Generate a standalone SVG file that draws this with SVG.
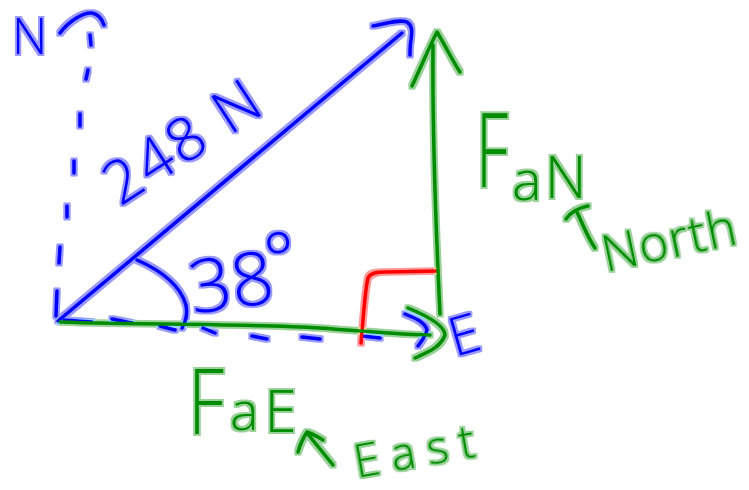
<svg xmlns="http://www.w3.org/2000/svg" width="749" height="490" viewBox="0 0 749 490">
<style>
.b{stroke:#0000ff;fill:none;stroke-width:3.5;stroke-linecap:round;stroke-linejoin:round}
.g{stroke:#008c00;fill:none;stroke-width:3.5;stroke-linecap:round;stroke-linejoin:round}
.r{stroke:#ff0000;fill:none;stroke-width:3.5;stroke-linecap:round;stroke-linejoin:round}
.tb{fill:#0000ff;font-family:"Open Sans","Liberation Sans",Arial,sans-serif;font-weight:300}
.tg{fill:#008c00;font-family:"Open Sans","Liberation Sans",Arial,sans-serif;font-weight:300}
</style>
<defs>
<filter id="halo" filterUnits="userSpaceOnUse" x="0" y="0" width="749" height="490">
<feMorphology in="SourceGraphic" operator="dilate" radius="2.2" result="d"/>
<feGaussianBlur in="d" stdDeviation="0.6" result="bl"/>
<feComponentTransfer in="bl" result="h"><feFuncA type="linear" slope="0.4"/></feComponentTransfer>
<feMerge><feMergeNode in="h"/><feMergeNode in="SourceGraphic"/></feMerge>
</filter>
</defs>
<rect width="749" height="490" fill="#ffffff"/>
<g id="connectors" filter="url(#halo)">
<path class="b" d="M90,35 L91,45 M88,70 L86,79 M80,114 L80,126 M74,161 L74,173 M67,206 L67,217 M60,247 L59,263 M57,291 L56,316"/>
<path class="b" d="M60,33 C68,22 83,12 92,13 C98,14 102,19 104,25"/>
<path class="b" d="M64,320 L92,322 M112,319 L132,323 M160,326 L175,330 M203,328 L215,333 M252,336 L267,339 M302,337 L320,339 M363,336 L380,338"/>
<path class="b" d="M405,314 C415,318 425,322 427,330 C425,337 421,342 418,346"/>
<path class="b" d="M58,321 Q215,190 402,33"/>
<path class="b" d="M373,26 C388,23 400,19 407,22 C413,26 412,32 411,40 C410,45 410,50 410,55"/>
<path class="b" d="M137,260 C160,270 180,285 186,305 C188,315 185,323 182,328"/>
<path class="r" d="M361,343 C364,310 365,290 368,278 C370,273 376,272 385,272 L438,271"/>
<path class="g" d="M60,322 C150,325 260,324 320,328 C360,331 395,334 430,335"/>
<path class="g" d="M408,308 C425,315 445,325 445,335 C440,348 428,352 415,358"/>
<path class="g" d="M440,314 C437,250 432,150 433,45"/>
<path class="g" d="M412,86 C422,65 430,45 437,32 C445,45 452,60 460,72"/>
<path class="g" d="M566,219 C570,213 578,208 588,206 M577,212 C583,225 588,238 595,248"/>
<path class="g" d="M298,452 C300,445 303,438 307,432 C313,434 318,437 323,440 M307,433 C315,443 325,455 333,465"/>
</g>
<g id="north-label" filter="url(#halo)">
<text class="tb" x="12" y="54" font-size="49">N</text>
</g>
<g id="magnitude-label" filter="url(#halo)">
<text class="tb" x="120" y="207" font-size="60" textLength="174" lengthAdjust="spacing" transform="rotate(-33 120 207)">248 N</text>
</g>
<g id="angle-label" filter="url(#halo)">
<text class="tb" x="193" y="314" font-size="74" transform="rotate(-8 193 314)">38<tspan dx="-6" dy="-16">°</tspan></text>
</g>
<g id="east-label" filter="url(#halo)">
<text class="tb" x="455" y="357" font-size="54" transform="rotate(-16 455 357)">E</text>
</g>
<g id="fan-label" filter="url(#halo)">
<text class="tg" x="476" y="187"><tspan font-size="104" textLength="32" lengthAdjust="spacingAndGlyphs">F</tspan><tspan dx="4" dy="13" font-size="56">a</tspan><tspan dx="3" dy="-2" font-size="58">N</tspan></text>
<text class="tg" x="606" y="272" font-size="50" textLength="136" lengthAdjust="spacing" transform="rotate(-12 606 272)">North</text>
</g>
<g id="fae-label" filter="url(#halo)">
<text class="tg" x="188" y="434"><tspan font-size="90" textLength="36" lengthAdjust="spacingAndGlyphs">F</tspan><tspan dx="6" dy="-4" font-size="54">a</tspan><tspan dx="6" dy="2" font-size="58">E</tspan></text>
<text class="tg" x="357" y="478" font-size="46" textLength="122" lengthAdjust="spacing" transform="rotate(-10 357 478)">East</text>
</g>
</svg>
